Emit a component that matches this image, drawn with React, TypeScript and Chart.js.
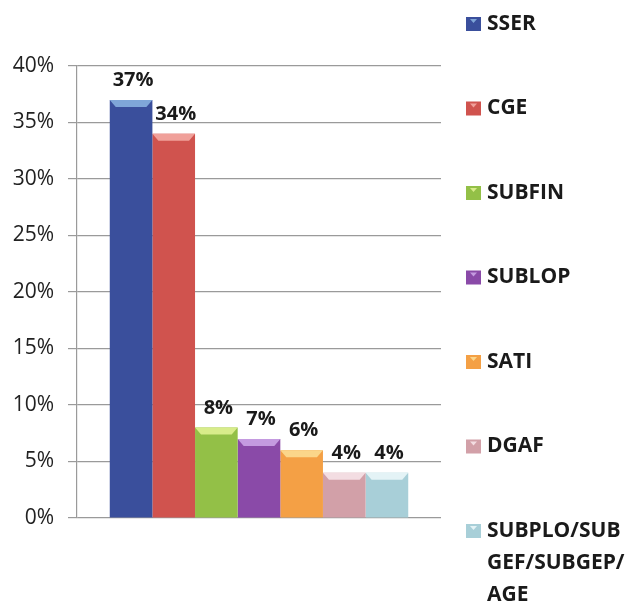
import React, { useEffect, useRef } from "react";
import { Chart, registerables } from "chart.js";

Chart.register(...registerables);

const categories = ["SSER", "CGE", "SUBFIN", "SUBLOP", "SATI", "DGAF", "SUBPLO/SUBGEF/SUBGEP/AGE"];
const values = [37, 34, 8, 7, 6, 4, 4];
const colors = ["#3a4f9c", "#d0534e", "#93c047", "#8a4aa8", "#f4a045", "#d2a0a8", "#a8cfd8"];
const highlights = ["#7fa6d8", "#f0a09a", "#d8ec8a", "#c49ae0", "#fbd68a", "#f3dde2", "#e4f3f6"];
const yTicks = [0, 5, 10, 15, 20, 25, 30, 35, 40];

const valueLabelPlugin = {
  id: "valueLabels",
  afterDatasetsDraw(chart: any) {
    const ctx = chart.ctx;
    ctx.save();
    chart.data.datasets.forEach((ds: any, i: number) => {
      const meta = chart.getDatasetMeta(i);
      meta.data.forEach((bar: any, j: number) => {
        const w = bar.width;
        const left = bar.x - w / 2;
        const right = bar.x + w / 2;
        const top = bar.y;
        ctx.fillStyle = highlights[i];
        ctx.beginPath();
        ctx.moveTo(left, top);
        ctx.lineTo(right, top);
        ctx.lineTo(right - 6, top + 7);
        ctx.lineTo(left + 6, top + 7);
        ctx.closePath();
        ctx.fill();
        ctx.fillStyle = "#1a1a1a";
        ctx.font = "bold 20px 'Open Sans'";
        ctx.textAlign = "center";
        ctx.textBaseline = "alphabetic";
        ctx.fillText(ds.data[j] + "%", bar.x + 2, top - 14);
      });
    });
    ctx.restore();
  },
};

const sideLegendPlugin = {
  id: "sideLegend",
  afterDraw(chart: any) {
    const ctx = chart.ctx;
    ctx.save();
    const boxX = 466;
    const textX = 487;
    const startY = 24;
    const step = 84.5;
    const lineH = 32;
    ctx.font = "bold 21px 'Open Sans'";
    ctx.textBaseline = "middle";
    ctx.textAlign = "left";
    chart.data.datasets.forEach((ds: any, i: number) => {
      const cy = startY + i * step;
      ctx.fillStyle = ds.backgroundColor;
      ctx.fillRect(boxX, cy - 7, 15, 14);
      ctx.fillStyle = highlights[i];
      ctx.beginPath();
      ctx.moveTo(boxX + 4, cy - 5);
      ctx.lineTo(boxX + 11, cy - 5);
      ctx.lineTo(boxX + 7.5, cy - 1);
      ctx.closePath();
      ctx.fill();
      const chars = String(ds.label).split("");
      const lines: string[] = [];
      let cur = "";
      for (const ch of chars) {
        if (ctx.measureText(cur + ch).width > 143 && cur) {
          lines.push(cur);
          cur = ch;
        } else cur += ch;
      }
      if (cur) lines.push(cur);
      ctx.fillStyle = "#1a1a1a";
      lines.forEach((ln, k) => ctx.fillText(ln, textX, cy + k * lineH));
    });
    ctx.restore();
  },
};

export default function App() {
  const ref = useRef<HTMLCanvasElement | null>(null);
  useEffect(() => {
    if (!ref.current) return;
    const chart = new Chart(ref.current, {
      type: "bar",
      data: {
        labels: [""],
        datasets: categories.map((c, i) => ({
          label: c,
          data: [values[i]],
          backgroundColor: colors[i],
          borderWidth: 0,
        })),
      },
      options: {
        animation: false,
        responsive: true,
        maintainAspectRatio: false,
        layout: { padding: { top: 66, right: 189, bottom: 83, left: 8 } },
        plugins: { legend: { display: false }, tooltip: { enabled: false } },
        datasets: { bar: { barPercentage: 1, categoryPercentage: 0.82 } },
        scales: {
          x: { display: false, grid: { display: false } },
          y: {
            min: 0,
            max: 40,
            afterFit: (s: any) => {
              s.width = 69;
            },
            afterBuildTicks: (s: any) => {
              s.ticks = yTicks.map((v) => ({ value: v }));
            },
            ticks: {
              callback: (v: any) => v + "%",
              color: "#222",
              font: { family: "'Open Sans'", size: 21 },
              padding: 14,
            },
            grid: { color: "#9a9a9a", lineWidth: 1.2, tickLength: 9, drawTicks: true },
            border: { display: true, color: "#9a9a9a", width: 1.2 },
          },
        },
      },
      plugins: [valueLabelPlugin, sideLegendPlugin],
    });
    return () => chart.destroy();
  }, []);
  return (
    <div style={{ position: "fixed", left: 0, top: 0, width: 630, height: 601, background: "#fff" }}>
      <canvas ref={ref} />
    </div>
  );
}
